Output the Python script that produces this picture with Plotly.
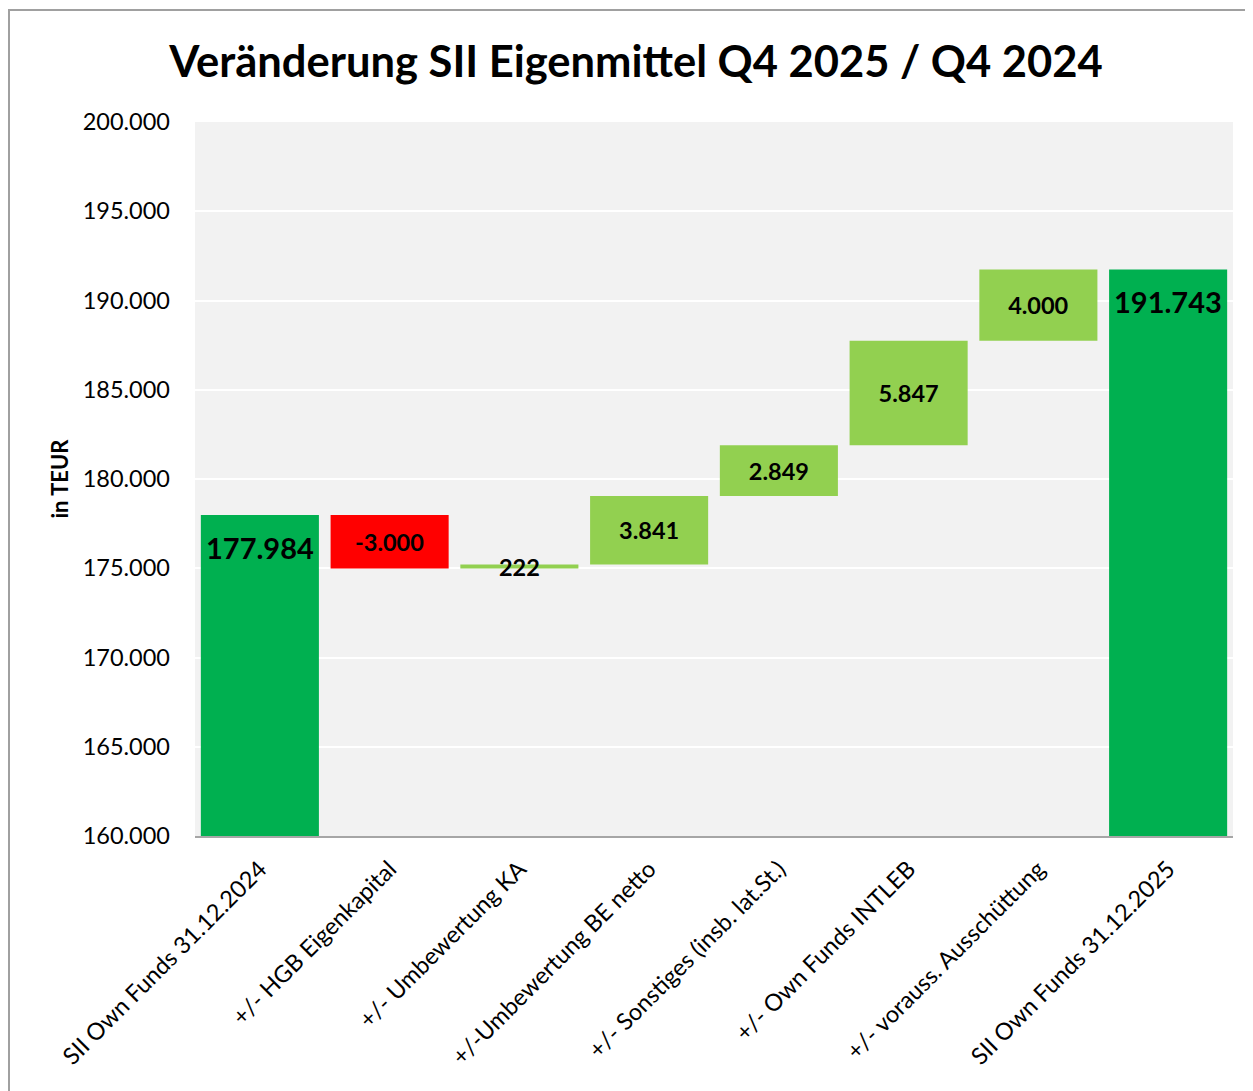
import plotly.graph_objects as go

categories = [
    "SII Own Funds 31.12.2024",
    "+/- HGB Eigenkapital",
    "+/- Umbewertung KA",
    "+/-Umbewertung BE netto",
    "+/- Sonstiges (insb. lat.St.)",
    "+/- Own Funds INTLEB",
    "+/- vorauss. Ausschüttung",
    "SII Own Funds 31.12.2025",
]
start_value = 177984
deltas = [-3000, 222, 3841, 2849, 5847, 4000]
end_value = 191743
y_ticks = [160000, 165000, 170000, 175000, 180000, 185000, 190000, 195000, 200000]


def de(v):
    return f"{v:,}".replace(",", ".")


# bases for delta bars (running total before each change)
bases = []
run = start_value
for d in deltas:
    bases.append(run)
    run += d

TOTAL_C = "#00B050"
POS_C = "#92D050"
NEG_C = "#FF0000"
FONT = "Lato"

fig = go.Figure()
fig.add_trace(go.Bar(
    x=[categories[0], categories[-1]],
    y=[start_value, end_value],
    marker=dict(color=TOTAL_C, line=dict(width=0)),
    width=0.91,
    hoverinfo="skip",
))
fig.add_trace(go.Bar(
    x=categories[1:-1],
    y=deltas,
    base=bases,
    marker=dict(color=[POS_C if d >= 0 else NEG_C for d in deltas], line=dict(width=0)),
    text=[de(d) for d in deltas],
    textposition="inside",
    insidetextanchor="middle",
    constraintext="none",
    textfont=dict(family=FONT, size=23.5, color="black", weight="bold"),
    width=0.91,
    hoverinfo="skip",
))

# total labels near the top of the total bars
for cat, val in [(categories[0], start_value), (categories[-1], end_value)]:
    fig.add_annotation(
        x=cat, y=val, text=de(val), showarrow=False,
        xanchor="center", yanchor="top", yshift=-13,
        font=dict(family=FONT, size=29, color="black", weight="bold"),
    )

OFF = 8  # page body margin of the browser
W, H = 1253 - OFF, 1091 - OFF
L, R, T, B = 195 - OFF, 20, 122 - OFF, 255
pw, ph = W - L - R, H - T - B

fig.update_layout(
    width=W, height=H,
    margin=dict(l=L, r=R, t=T, b=B),
    barmode="overlay",
    showlegend=False,
    separators=",.",
    paper_bgcolor="white",
    plot_bgcolor="#F2F2F2",
    font=dict(family=FONT, color="black"),
    title=dict(
        text="Veränderung SII Eigenmittel Q4 2025 / Q4 2024",
        font=dict(family=FONT, size=43.5, color="black", weight="bold"),
        xref="container", x=(636 - OFF) / W, xanchor="center",
        yref="container", y=1 - (62 - OFF) / H, yanchor="middle",
    ),
    xaxis=dict(
        categoryorder="array", categoryarray=categories,
        tickangle=-45,
        tickfont=dict(family=FONT, size=23.5, color="black"),
        showline=True, linecolor="#A6A6A6", linewidth=2,
        showgrid=False, ticks="",
        ticklabelstandoff=8,
    ),
    yaxis=dict(
        range=[160000, 200000],
        tickvals=y_ticks,
        tickformat=",d",
        tickfont=dict(family=FONT, size=23.5, color="black"),
        showgrid=True, gridcolor="white", gridwidth=1.5,
        zeroline=False, showline=False, ticks="",
        ticklabelstandoff=24,
        title=dict(text="<b>in TEUR</b>", font=dict(family=FONT, size=22, color="black"), standoff=7),
    ),
    shapes=[
        dict(type="path", xref="paper", yref="paper",
             path=f"M {(9 - 195) / pw},{-1} L {(9 - 195) / pw},{(836 - 10) / ph} L {1.2},{(836 - 10) / ph}",
             line=dict(color="#A0A0A0", width=2)),
    ],
)

fig.write_html("out.html")
